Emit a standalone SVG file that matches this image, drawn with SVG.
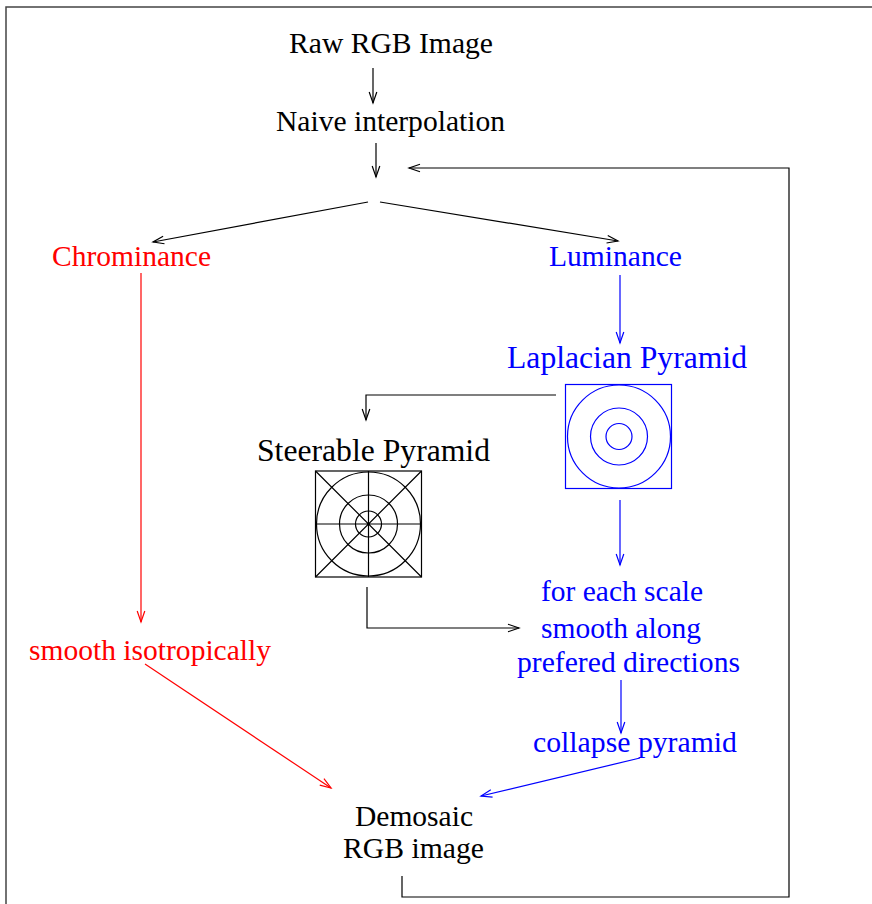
<svg xmlns="http://www.w3.org/2000/svg" width="872" height="904" viewBox="0 0 872 904">
  <style>
    text { font-family: "Liberation Serif", "Times New Roman", serif; font-size: 29.5px; }
    .big { font-size: 31.5px; }
    .k { fill: #000; }
    .r { fill: #ff0000; }
    .b { fill: #0000ff; }
    .ln { fill: none; stroke-width: 1.2; }
    .lk { stroke: #000; }
    .lr { stroke: #ff0000; }
    .lb { stroke: #0000ff; }
    .icon { fill: none; stroke-width: 1.2; }
  </style>
  <defs>
    <marker id="ak" markerUnits="userSpaceOnUse" markerWidth="14" markerHeight="12" viewBox="-12 -6 14 12" refX="0" refY="0" orient="auto">
      <path d="M-11,-3.8 L0,0 L-11,3.8" fill="none" stroke="#000" stroke-width="1.2"/>
    </marker>
    <marker id="ar" markerUnits="userSpaceOnUse" markerWidth="14" markerHeight="12" viewBox="-12 -6 14 12" refX="0" refY="0" orient="auto">
      <path d="M-11,-3.8 L0,0 L-11,3.8" fill="none" stroke="#ff0000" stroke-width="1.2"/>
    </marker>
    <marker id="ab" markerUnits="userSpaceOnUse" markerWidth="14" markerHeight="12" viewBox="-12 -6 14 12" refX="0" refY="0" orient="auto">
      <path d="M-11,-3.8 L0,0 L-11,3.8" fill="none" stroke="#0000ff" stroke-width="1.2"/>
    </marker>
  </defs>

  <rect width="872" height="904" fill="#fff"/>
  <!-- page frame -->
  <path d="M6,904 L6,7 L872,7" fill="none" stroke="#444" stroke-width="1.5"/>

  <g id="raw-rgb"><text class="k" x="289" y="53" textLength="204" lengthAdjust="spacingAndGlyphs">Raw RGB Image</text></g>
  <g id="naive"><text class="k" x="276" y="131" textLength="229" lengthAdjust="spacingAndGlyphs">Naive interpolation</text></g>
  <g id="chrominance"><text class="r" x="52" y="266" textLength="159" lengthAdjust="spacingAndGlyphs">Chrominance</text></g>
  <g id="luminance"><text class="b" x="549" y="266" textLength="133" lengthAdjust="spacingAndGlyphs">Luminance</text></g>

  <g id="laplacian">
    <text class="b big" x="507" y="368" textLength="240" lengthAdjust="spacingAndGlyphs">Laplacian Pyramid</text>
    <g class="icon" stroke="#0000ff">
      <rect x="565.5" y="384.5" width="106" height="104"/>
      <circle cx="619" cy="436.5" r="51.5"/>
      <circle cx="619" cy="436.5" r="28.5"/>
      <circle cx="619" cy="436.5" r="13"/>
    </g>
  </g>

  <g id="steerable">
    <text class="k big" x="257" y="461" textLength="233" lengthAdjust="spacingAndGlyphs">Steerable Pyramid</text>
    <g class="icon" stroke="#000">
      <rect x="315.5" y="471" width="106" height="106"/>
      <circle cx="368.5" cy="524" r="52"/>
      <circle cx="368.5" cy="524" r="29"/>
      <circle cx="368.5" cy="524" r="13"/>
      <path d="M315.5,524 H421.5 M368.5,471 V577 M315.5,471 L421.5,577 M421.5,471 L315.5,577"/>
    </g>
  </g>

  <g id="smooth-directions">
    <text class="b" x="541" y="601" textLength="162" lengthAdjust="spacingAndGlyphs">for each scale</text>
    <text class="b" x="541" y="638" textLength="160" lengthAdjust="spacingAndGlyphs">smooth along</text>
    <text class="b" x="517" y="672" textLength="223" lengthAdjust="spacingAndGlyphs">prefered directions</text>
  </g>
  <g id="collapse"><text class="b" x="533" y="752" textLength="204" lengthAdjust="spacingAndGlyphs">collapse pyramid</text></g>
  <g id="smooth-iso"><text class="r" x="29" y="660" textLength="242" lengthAdjust="spacingAndGlyphs">smooth isotropically</text></g>
  <g id="demosaic">
    <text class="k" x="355" y="826" textLength="118" lengthAdjust="spacingAndGlyphs">Demosaic</text>
    <text class="k" x="343" y="858" textLength="141" lengthAdjust="spacingAndGlyphs">RGB image</text>
  </g>

  <g id="connectors">
    <path class="ln lk" d="M373,68 V103" marker-end="url(#ak)"/>
    <path class="ln lk" d="M376,143 V177" marker-end="url(#ak)"/>
    <path class="ln lk" d="M368,202 L153,242" marker-end="url(#ak)"/>
    <path class="ln lk" d="M380,202 L618,241" marker-end="url(#ak)"/>
    <path class="ln lr" d="M141,273 V622" marker-end="url(#ar)"/>
    <path class="ln lb" d="M620,275 V343" marker-end="url(#ab)"/>
    <path class="ln lk" d="M556,395 H366 V420" marker-end="url(#ak)"/>
    <path class="ln lb" d="M620,500 V565" marker-end="url(#ab)"/>
    <path class="ln lk" d="M367,587 V628 H519" marker-end="url(#ak)"/>
    <path class="ln lb" d="M621,680 V733" marker-end="url(#ab)"/>
    <path class="ln lb" d="M640,758 L481,796" marker-end="url(#ab)"/>
    <path class="ln lr" d="M145,664 L331,788" marker-end="url(#ar)"/>
    <path class="ln lk" d="M402,876 V897 H789 V168 H409" marker-end="url(#ak)"/>
  </g>
</svg>
